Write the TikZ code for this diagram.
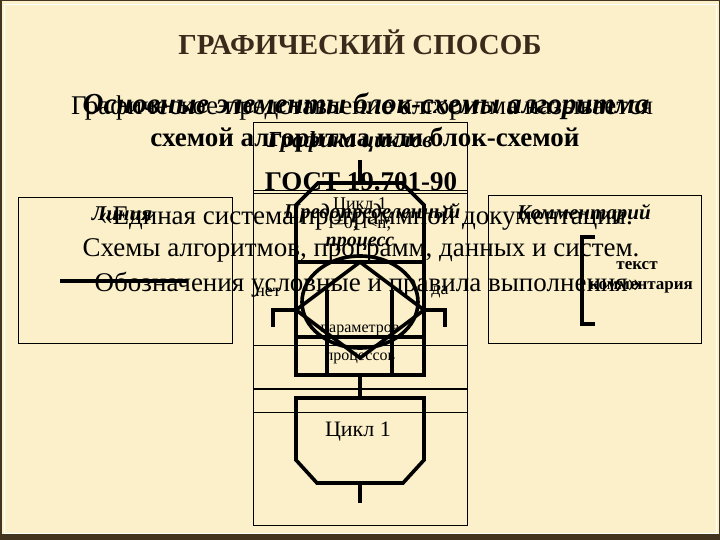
\documentclass[tikz,border=0pt]{standalone}
\usepackage{fontspec}
\setmainfont{Liberation Serif}
\usetikzlibrary{positioning, calc, shapes.geometric}
\definecolor{slidebg}{RGB}{251,240,201}
\definecolor{framebr}{RGB}{66,52,30}
\definecolor{titlebr}{RGB}{58,42,28}

\begin{document}
\begin{tikzpicture}[
  x=1pt, y=-1pt,
  every node/.style={inner sep=0pt},
  big/.style={font=\fontsize{27}{30}\selectfont},
  bigbf/.style={font=\fontsize{27}{30}\selectfont\bfseries},
  over/.style={font=\fontsize{23}{26}\selectfont\bfseries\itshape},
  small/.style={font=\fontsize{18}{20}\selectfont},
  tiny/.style={font=\fontsize{16}{18}\selectfont},
  thinbox/.style={draw, line width=0.8pt},
  elem/.style={draw, line width=3.6pt},
]
  % slide background
  \fill[slidebg] (0,0) rectangle (720,540);
  \useasboundingbox (0,0) rectangle (720,540);
  \draw[framebr, line width=1.5pt] (0.75,0.75) rectangle (719.25,539.25);
  \draw[white, line width=0.6pt] (4,4) rectangle (716,533);
  \fill[framebr] (0,534) rectangle (720,540);

  % boxes behind the text
  \draw[thinbox] (18,197) rectangle (232,343);
  \draw[thinbox] (488,195) rectangle (701,343);
  \draw[thinbox] (253,122) rectangle (467,525);
  \draw[thinbox] (253,190) -- (467,190);
  \draw[thinbox] (253,193) -- (467,193);
  \draw[thinbox] (253,345) -- (467,345);
  \draw[line width=1.8pt] (253,389) -- (467,389);
  \draw[thinbox] (253,412) -- (467,412);

  % title and text lines
  \node[font=\fontsize{29}{32}\selectfont\bfseries, text=titlebr] (title) at (360,42) {ГРАФИЧЕСКИЙ СПОСОБ};
  \node[big] (line1) at (362,108) {Графическое представление алгоритма называется};
  \node[over, font=\fontsize{29}{32}\selectfont\bfseries\itshape] (line1over) at (366,106) {Основные элементы блок-схемы алгоритма};
  \node[bigbf] (line2) at (365,140) {схемой алгоритма или блок-схемой};
  \node[over] (line2over) at (350,142) {Графика циклов};
  \node[bigbf] (gost) at (361,182) {ГОСТ 19.701-90};
  \node[big] (std1) at (366,218) {«Единая система программной документации.};
  \node[big] (std2) at (361,250) {Схемы алгоритмов, программ, данных и систем.};
  \node[big] (std3) at (368,285) {Обозначения условные и правила выполнения»};

  % line element
  \node[font=\fontsize{21}{23}\selectfont\bfseries\itshape] (lineName) at (122,214) {Линия};
  \coordinate (lineA) at (60,281);
  \coordinate (lineB) at (187,281);
  \draw[elem] (lineA) -- (lineB);

  % comment element
  \node[font=\fontsize{21}{23}\selectfont\bfseries\itshape] (commName) at (584,214) {Комментарий};
  \draw[elem] (595,237) -- (582,237) -- (582,324) -- (595,324);
  \node[font=\fontsize{17}{19}\selectfont\bfseries] (commText1) at (637,266) {текст};
  \node[font=\fontsize{17}{19}\selectfont\bfseries] (commText2) at (641,287) {комментария};

  % loop start / predefined process / decision (overlaid)
  \coordinate (inTop) at (360,160);
  \coordinate (loopTop) at (360,183);
  \draw[elem] (296,262) -- (296,205) -- (318,183) -- (402,183) -- (424,205) -- (424,262);
  \draw[elem] (inTop) -- (loopTop);
  \node[small] (loopName) at (360,205) {Цикл 1};
  \node[small] (loopCond) at (360,224) {i=0; i<n;};
  \node[font=\fontsize{21}{23}\selectfont\bfseries\itshape] (predName) at (372,213) {Предопределенный};
  \node[font=\fontsize{20}{22}\selectfont\bfseries\itshape] (procName) at (360,244) {процесс};

  \draw[elem] (296,262) rectangle (424,375);
  \draw[elem] (327,290) -- (327,375);
  \draw[elem] (392,290) -- (392,375);
  \draw[elem] (296,337) -- (424,337);
  \draw[elem] (360,302) ellipse[x radius=58, y radius=46];
  \coordinate (decL) at (296,310);
  \coordinate (decR) at (424,310);
  \draw[elem] (decL) -- (360,262) -- (decR) -- (360,358) -- cycle;
  \draw[elem] (decL) -- (273,310) -- (273,327);
  \draw[elem] (decR) -- (445,310) -- (445,327);
  \node[small] (no) at (268,292) {нет};
  \node[small] (yes) at (440,292) {да};
  \node[tiny] (param) at (360,330) {параметров};
  \node[tiny] (procs) at (360,358) {процессов};

  % loop end
  \coordinate (procBot) at (360,375);
  \coordinate (endTop) at (360,398);
  \coordinate (endBot) at (360,483);
  \coordinate (outBot) at (360,503);
  \draw[elem] (296,398) -- (424,398) -- (424,460) -- (403,483) -- (317,483) -- (296,460) -- cycle;
  \node[font=\fontsize{22}{24}\selectfont] (endName) at (358,432) {Цикл 1};
  \draw[elem] (procBot) -- (endTop);
  \draw[elem] (endBot) -- (outBot);
\end{tikzpicture}
\end{document}
